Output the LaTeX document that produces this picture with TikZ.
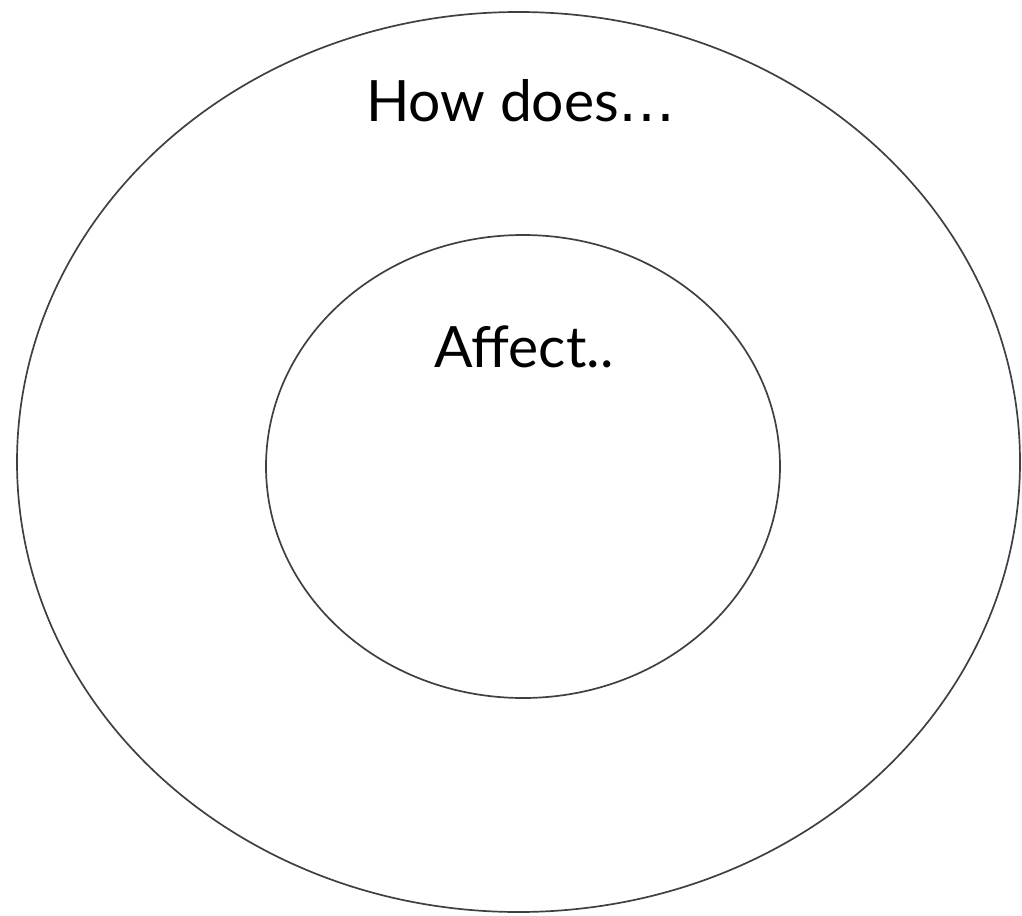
\documentclass[tikz,border=0pt]{standalone}
\usepackage{fontspec}
\setmainfont{Lato}
\newfontfamily\dotsfont{DejaVu Sans}
\usetikzlibrary{shapes.geometric}
\begin{document}
\begin{tikzpicture}[x=1pt,y=-1pt,
  ring/.style={draw=black!75,line width=1.7pt,ellipse,inner sep=0pt,outer sep=0pt},
  label/.style={font=\fontsize{57}{66}\selectfont,text=black,inner sep=0pt}]
\useasboundingbox (0,0) rectangle (1022,915);
\node[ring,minimum width=1003pt,minimum height=900pt] (outer) at (518.5,462) {};
\node[ring,minimum width=514pt,minimum height=463pt] (inner) at (523,466.5) {};
\node[label] (how) at (521,101) {How does{\dotsfont …}};
\node[label] (affect) at (524,347) {Affect..};
\end{tikzpicture}
\end{document}
